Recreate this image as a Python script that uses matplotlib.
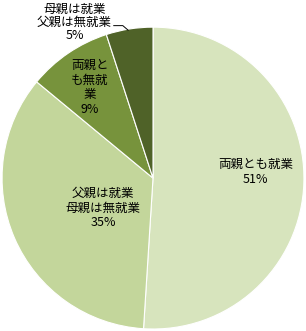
import matplotlib
matplotlib.use("Agg")
import matplotlib.pyplot as plt

labels = ["両親とも就業", "父親は就業\n母親は無就業", "両親と\nも無就\n業", "母親は就業\n父親は無就業"]
values = [51, 35, 9, 5]
colors = ["#d7e4bd", "#c3d69b", "#77933c", "#4f6228"]

plt.rcParams['font.family'] = ['Noto Sans CJK JP', 'DejaVu Sans']

fig = plt.figure(figsize=(3.06, 3.31), dpi=100)
ax = fig.add_axes([0.0065, 0.006, 0.987, 0.912])
wedges, _ = ax.pie(values, colors=colors, startangle=90, counterclock=False,
                   radius=1.0, wedgeprops=dict(edgecolor="white", linewidth=0.8))
ax.set_xlim(-1, 1)
ax.set_ylim(-1, 1)
ax.set_aspect("equal")
ax.axis("off")

pos = [(0.68, 0.04), (-0.33, -0.2), (-0.42, 0.6), (-0.52, 1.03)]
spacing = [1.15, 1.15, 1.15, 1.0]
for lab, v, (x, y), ls in zip(labels, values, pos, spacing):
    ax.text(x, y, f"{lab}\n{v}%", ha="center", va="center", fontsize=9,
            linespacing=ls, color="black", clip_on=False)

ax.plot([-0.26, -0.2, -0.165], [1.01, 1.01, 0.98], color="black", lw=0.7, clip_on=False)

fig.savefig("out.png", dpi=100)
